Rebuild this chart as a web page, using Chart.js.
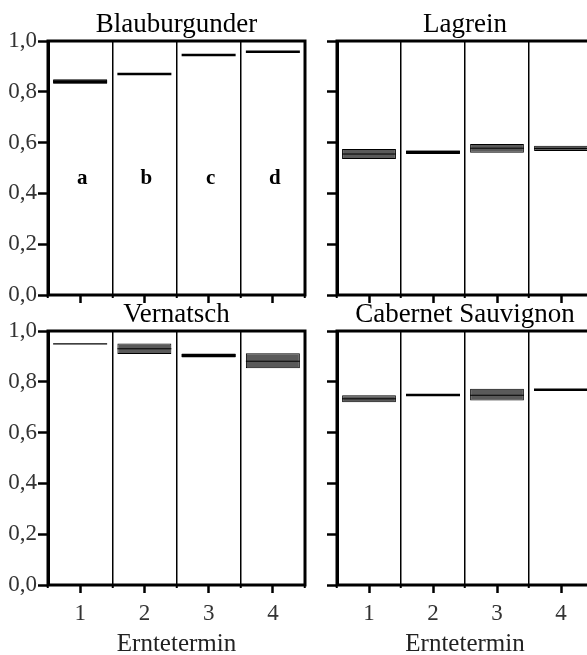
<!DOCTYPE html>
<html>
<head>
<meta charset="utf-8">
<script src="https://cdn.jsdelivr.net/npm/chart.js@4/dist/chart.umd.min.js"></script>
<style>
  html, body { margin: 0; padding: 0; background: #fff; width: 587px; height: 655px; overflow: hidden; }
  .wrap { position: absolute; }
</style>
</head>
<body>
<div class="wrap" style="left:0px;top:0px;width:320px;height:320px"><canvas id="c0"></canvas></div>
<div class="wrap" style="left:305px;top:0px;width:295px;height:320px"><canvas id="c1"></canvas></div>
<div class="wrap" style="left:0px;top:290px;width:320px;height:365px"><canvas id="c2"></canvas></div>
<div class="wrap" style="left:305px;top:290px;width:295px;height:365px"><canvas id="c3"></canvas></div>
<script>
// ---- data ----
const categories = ['1', '2', '3', '4'];
const titles = ['Blauburgunder', 'Lagrein', 'Vernatsch', 'Cabernet Sauvignon'];
const xAxisTitle = 'Erntetermin';
const yTickValues = [0, 0.2, 0.4, 0.6, 0.8, 1.0];
const letters = ['a', 'b', 'c', 'd'];
const letterLevel = 0.46;

const blauLow  = [0.832, 0.870, 0.945, 0.958];
const blauMed  = [0.840, 0.870, 0.945, 0.958];
const blauHigh = [0.849, 0.870, 0.945, 0.958];

const lagLow  = [0.535, 0.555, 0.560, 0.567];
const lagMed  = [0.555, 0.562, 0.578, 0.577];
const lagHigh = [0.575, 0.569, 0.594, 0.588];

const verLow  = [0.949, 0.909, 0.896, 0.853];
const verMed  = [0.949, 0.930, 0.904, 0.881];
const verHigh = [0.949, 0.951, 0.911, 0.912];

const cabLow  = [0.719, 0.748, 0.726, 0.769];
const cabMed  = [0.733, 0.748, 0.747, 0.769];
const cabHigh = [0.747, 0.748, 0.773, 0.769];

const panels = [
  { id: 'c0', title: titles[0], low: blauLow, med: blauMed, high: blauHigh, leftLabels: true,  bottom: false, letters: letters, medW: [3, 2.5, 2.5, 2.5] },
  { id: 'c1', title: titles[1], low: lagLow,  med: lagMed,  high: lagHigh,  leftLabels: false, bottom: false, letters: null,    medW: [1, 3, 1, 1] },
  { id: 'c2', title: titles[2], low: verLow,  med: verMed,  high: verHigh,  leftLabels: true,  bottom: true,  letters: null,    medW: [1.2, 1, 3, 1] },
  { id: 'c3', title: titles[3], low: cabLow,  med: cabMed,  high: cabHigh,  leftLabels: false, bottom: true,  letters: null,    medW: [1, 2.5, 1, 2.5] }
];

const SERIF = '"Liberation Serif", "DejaVu Serif", serif';

// scatter controller whose wide 'line' points do not reserve extra layout padding
const ScatterBase = Chart.registry.getController('scatter');
class MedianController extends ScatterBase {
  getMaxOverflow() { return 0; }
}
MedianController.id = 'median';
MedianController.defaults = ScatterBase.defaults;
MedianController.overrides = ScatterBase.overrides;
Chart.register(MedianController);

const framePlugin = {
  id: 'frame',
  afterDraw(chart) {
    const a = chart.chartArea, ctx = chart.ctx;
    ctx.save();
    ctx.strokeStyle = '#000';
    ctx.lineWidth = 3;
    ctx.strokeRect(a.left, a.top, a.right - a.left, a.bottom - a.top);
    ctx.restore();
  }
};

const letterPlugin = {
  id: 'letters',
  afterDatasetsDraw(chart, args, opts) {
    if (!opts.labels) return;
    const ctx = chart.ctx, xs = chart.scales.x, ys = chart.scales.y;
    ctx.save();
    ctx.font = 'bold 21px ' + SERIF;
    ctx.fillStyle = '#000';
    ctx.textAlign = 'center';
    ctx.textBaseline = 'middle';
    opts.labels.forEach((t, i) => ctx.fillText(t, xs.getPixelForValue(i) + 2, ys.getPixelForValue(letterLevel)));
    ctx.restore();
  }
};

function noPadH(s) { s.paddingLeft = 0; s.paddingRight = 0; }

panels.forEach(p => {
  const boxData = p.low.map((l, i) => (p.high[i] > l ? [l, p.high[i]] : null));
  const leftW = p.leftLabels ? 48 : 32;
  const rightPad = p.leftLabels ? 15 : 7;
  new Chart(document.getElementById(p.id), {
    data: {
      labels: categories,
      datasets: [
        {
          type: 'bar',
          data: boxData,
          backgroundColor: '#5a5a5a',
          borderColor: '#000',
          borderWidth: 1,
          borderSkipped: false,
          barPercentage: 0.84,
          categoryPercentage: 1.0,
          grouped: false,
          order: 2
        },
        {
          type: 'median',
          data: p.med.map((m, i) => ({ x: categories[i], y: m })),
          pointStyle: 'line',
          pointRadius: 27,
          pointHoverRadius: 27,
          borderColor: '#000',
          pointBorderWidth: p.medW,
          borderWidth: p.medW,
          order: 1
        }
      ]
    },
    options: {
      responsive: true,
      maintainAspectRatio: false,
      animation: false,
      events: [],
      layout: { padding: { left: 0, right: rightPad, top: 0, bottom: 0 } },
      plugins: {
        legend: { display: false },
        tooltip: { enabled: false },
        title: {
          display: true,
          text: p.title,
          fullSize: false,
          color: '#000',
          font: { family: SERIF, size: 27, weight: 'normal', lineHeight: 1.2 },
          padding: { top: 8.6, bottom: 0 }
        },
        letters: { labels: p.letters }
      },
      scales: {
        x: {
          type: 'category',
          position: 'bottom',
          offset: true,
          weight: 0,
          afterFit: s => { s.height = 0; noPadH(s); },
          grid: { offset: true, drawOnChartArea: true, color: '#000', lineWidth: 1.5, tickLength: 3, tickWidth: 2, tickColor: '#000' },
          border: { display: false },
          ticks: { display: false }
        },
        x2: {
          type: 'category',
          labels: categories,
          position: 'bottom',
          offset: true,
          weight: 1,
          afterFit: s => { s.height = p.bottom ? 70 : 25; noPadH(s); },
          grid: { offset: false, drawOnChartArea: false, tickLength: 8, tickWidth: 2.5, tickColor: '#000' },
          border: { display: false },
          ticks: { display: p.bottom, color: '#333', font: { family: SERIF, size: 23 }, padding: 7, maxRotation: 0 },
          title: { display: p.bottom, text: xAxisTitle, color: '#222', font: { family: SERIF, size: 25, lineHeight: 1 }, padding: { top: 0, bottom: -1.5 } }
        },
        y: {
          type: 'linear',
          min: 0, max: 1,
          afterFit: s => { s.width = leftW; s.paddingTop = 0; s.paddingBottom = 0; },
          afterBuildTicks: s => { s.ticks = yTickValues.map(v => ({ value: v })); },
          grid: { drawOnChartArea: false, tickLength: 10, tickWidth: 2.5, tickColor: '#000' },
          border: { display: true, color: '#000', width: 3 },
          ticks: {
            display: p.leftLabels,
            color: '#333',
            padding: 1,
            font: { family: SERIF, size: 23 },
            callback: v => v.toFixed(1).replace('.', ',')
          }
        }
      }
    },
    plugins: [framePlugin, letterPlugin]
  });
});
</script>
</body>
</html>
